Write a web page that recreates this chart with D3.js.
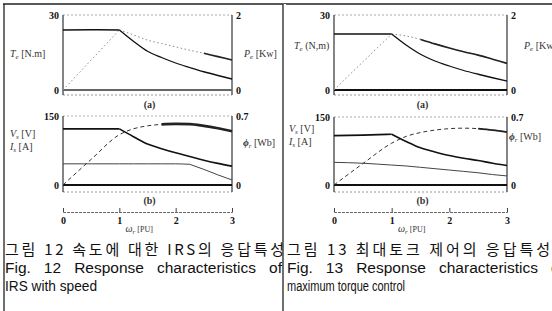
<!DOCTYPE html>
<html>
<head>
<meta charset="utf-8">
<script src="https://cdn.jsdelivr.net/npm/d3@7"></script>
<style>
  body { margin: 0; background: #fff; }
  .tick text { font-family: "Liberation Serif", serif; font-weight: bold; font-size: 10px; fill: #111; }
  .lab { font-family: "Liberation Serif", serif; font-size: 10px; fill: #333; }
  .cap { font-family: "Liberation Sans", sans-serif; font-size: 15.5px; fill: #111; }
</style>
</head>
<body>
<svg id="fig" width="552" height="311"></svg>
<script>
// rotor speed samples [PU]
const omega = [0, 0.5, 1, 1.25, 1.5, 1.75, 2, 2.25, 2.5, 2.75, 3];
const xTicks = [0, 1, 2, 3];

// Fig. 12 - IRS with speed
const te12  = [24, 24.1, 24, 19.5, 15.5, 13, 10.8, 9, 7.3, 5.8, 4.4];
const pe12  = [0, 0.8, 1.6, 1.47, 1.33, 1.24, 1.15, 1.06, 0.98, 0.89, 0.8];
const vs12  = [122, 122, 122, 105, 89, 79, 70, 62, 54, 47, 41];
const is12  = [46, 46, 46, 46, 46, 46, 46, 45, 34, 22, 11];
const phi12 = [0, 0.26, 0.51, 0.57, 0.6, 0.615, 0.62, 0.618, 0.6, 0.575, 0.545];

// Fig. 13 - maximum torque control
const te13  = [22.4, 22.4, 22.4, 18, 14.3, 11.6, 9.6, 7.8, 6.3, 4.9, 3.6];
const pe13  = [0, 0.75, 1.49, 1.44, 1.35, 1.23, 1.12, 1.02, 0.93, 0.82, 0.71];
const vs13  = [109, 110, 112, 96, 82, 73, 65, 59, 54, 48, 43];
const is13  = [50, 48, 44, 42, 39, 36, 33, 30, 27, 23, 20];
const phi13 = [0, 0.22, 0.43, 0.5, 0.54, 0.565, 0.58, 0.585, 0.58, 0.565, 0.545];

const svg = d3.select("#fig");
const fmt = d => String(d);

// page frame
svg.append("line").attr("x1", 3).attr("x2", 552).attr("y1", 4).attr("y2", 4)
    .attr("stroke", "#222").attr("stroke-width", 1.6);
svg.append("line").attr("x1", 4).attr("x2", 4).attr("y1", 4).attr("y2", 311)
    .attr("stroke", "#222").attr("stroke-width", 1.3);

const panels = [
    { x0: 63, x1: 232, bTop: 116, te: te12, pe: pe12, vs: vs12, is: is12, phi: phi12,
      isBreak: 7, peDark: 8, phiDark: 5,
      teLab: [10, 57], vsLab: [10, 137, 150], peLab: [244, 57], phiLab: [243, 146],
      korean: "그림 12 속도에 대한 IRS의 응답특성", korW: 279,
      eng1: "Fig. 12 Response characteristics of", eng1W: 277,
      eng2: "IRS with speed", eng2W: 92, tx: 5, teUnit: " [N.m]" },
    { x0: 334, x1: 507, bTop: 117, te: te13, pe: pe13, vs: vs13, is: is13, phi: phi13,
      isBreak: null, peDark: 4, phiDark: 8,
      teLab: [294, 49], vsLab: [289, 132, 145], peLab: [524, 49], phiLab: [509, 140],
      korean: "그림 13 최대토크 제어의 응답특성", korW: 263,
      eng1: "Fig. 13 Response characteristics of", eng1W: 277,
      eng2: "maximum torque control", eng2W: 118, tx: 287, teUnit: " (N,m)" }
];

// draw a series, splitting at corner indices so the bends stay sharp
function drawSeries(g, x, y, vals, breaks, style, from) {
    const idx = [from || 0].concat(breaks || [], [vals.length - 1]);
    for (let k = 0; k < idx.length - 1; k++) {
        const pts = d3.range(idx[k], idx[k + 1] + 1).map(i => [omega[i], vals[i]]);
        const line = d3.line().x(d => x(d[0])).y(d => y(d[1])).curve(d3.curveMonotoneX);
        const p = g.append("path").attr("d", line(pts)).attr("fill", "none");
        Object.entries(style).forEach(([k2, v]) => p.attr(k2, v));
    }
}

function box(g, x0, x1, top, zero, bottom, zeroColor) {
    g.append("line").attr("x1", x0).attr("x2", x1).attr("y1", top).attr("y2", top)
        .attr("stroke", "#aaa").attr("stroke-dasharray", "2,2");
    g.append("line").attr("x1", x0).attr("x2", x1).attr("y1", bottom).attr("y2", bottom)
        .attr("stroke", "#999").attr("stroke-dasharray", "2,2");
    g.append("line").attr("x1", x0).attr("x2", x0).attr("y1", top).attr("y2", bottom)
        .attr("stroke", "#333").attr("stroke-width", 1.2);
    g.append("line").attr("x1", x1).attr("x2", x1).attr("y1", top).attr("y2", bottom)
        .attr("stroke", "#333").attr("stroke-width", 1.2);
    g.append("line").attr("x1", x0).attr("x2", x1).attr("y1", zero).attr("y2", zero)
        .attr("stroke", zeroColor).attr("stroke-width", 1.8);
}

function cleanAxis(a) {
    a.select(".domain").remove();
    a.selectAll(".tick line").remove();
}

function subLabel(g, xx, yy, sym, sub, unit, fill) {
    const t = g.append("text").attr("class", "lab").attr("x", xx).attr("y", yy)
        .attr("fill", fill || "#333");
    t.append("tspan").attr("font-style", "italic").text(sym);
    t.append("tspan").attr("font-style", "italic").attr("font-size", "7px").attr("dy", 2).text(sub);
    t.append("tspan").attr("dy", -2).text(unit);
    return t;
}

// caption line justified by widening the gaps between words
function justify(g, xx, yy, str, width) {
    const t = g.append("text").attr("class", "cap").attr("x", xx).attr("y", yy).text(str);
    const nat = t.node().getComputedTextLength();
    const gaps = (str.match(/ /g) || []).length;
    if (nat < width) t.attr("word-spacing", (width - nat) / gaps);
    else t.attr("textLength", width).attr("lengthAdjust", "spacingAndGlyphs");
    return t;
}

panels.forEach(p => {
    const g = svg.append("g");
    const x = d3.scaleLinear().domain([0, 3]).range([p.x0, p.x1]);

    // ---- (a) torque / power
    const yT = d3.scaleLinear().domain([0, 30]).range([90, 15]);
    const yP = d3.scaleLinear().domain([0, 2]).range([90, 15]);
    box(g, p.x0, p.x1, 15, 90, 95, p.x0 < 100 ? "#666" : "#111");

    g.append("g").attr("transform", `translate(${p.x0},0)`)
        .call(d3.axisLeft(yT).tickValues([0, 30]).tickFormat(fmt).tickSize(0).tickPadding(4)).call(cleanAxis);
    g.append("g").attr("transform", `translate(${p.x1},0)`)
        .call(d3.axisRight(yP).tickValues([0, 2]).tickFormat(fmt).tickSize(0).tickPadding(4)).call(cleanAxis);

    drawSeries(g, x, yP, p.pe, [2], { stroke: "#888", "stroke-width": 1, "stroke-dasharray": "1.5,2.5" });
    drawSeries(g, x, yP, p.pe, [], { stroke: "#222", "stroke-width": 1.6 }, p.peDark);
    drawSeries(g, x, yT, p.te, [2], { stroke: "#111", "stroke-width": 1.3 });

    subLabel(g, p.teLab[0], p.teLab[1], "T", "e", p.teUnit);
    subLabel(g, p.peLab[0], p.peLab[1], "P", "e", " [Kw]", "#bbb");

    g.append("text").attr("class", "lab").attr("x", (p.x0 + p.x1) / 2 + 2).attr("y", 108)
        .attr("text-anchor", "middle").attr("font-weight", "bold").attr("font-size", "9px").text("(a)");

    // ---- (b) voltage / current / flux
    const yV = d3.scaleLinear().domain([0, 150]).range([185, p.bTop]);
    const yF = d3.scaleLinear().domain([0, 0.7]).range([185, p.bTop]);
    box(g, p.x0, p.x1, p.bTop, 185, 192, "#111");

    g.append("g").attr("transform", `translate(${p.x0},0)`)
        .call(d3.axisLeft(yV).tickValues([0, 150]).tickFormat(fmt).tickSize(0).tickPadding(4)).call(cleanAxis);
    g.append("g").attr("transform", `translate(${p.x1},0)`)
        .call(d3.axisRight(yF).tickValues([0, 0.7]).tickFormat(fmt).tickSize(0).tickPadding(4)).call(cleanAxis);

    drawSeries(g, x, yF, p.phi, [], { stroke: "#333", "stroke-width": 1, "stroke-dasharray": "4,3" });
    drawSeries(g, x, yF, p.phi, [], { stroke: "#222", "stroke-width": p.x0 < 100 ? 2.6 : 1.8 }, p.phiDark);
    drawSeries(g, x, yV, p.is, p.isBreak ? [p.isBreak] : [], { stroke: "#444", "stroke-width": 1 });
    drawSeries(g, x, yV, p.vs, [2], { stroke: "#111", "stroke-width": 1.6 });

    subLabel(g, p.vsLab[0], p.vsLab[1], "V", "s", "  [V]");
    subLabel(g, p.vsLab[0], p.vsLab[2], "I", "s", "  [A]");
    const ph = g.append("text").attr("class", "lab").attr("x", p.phiLab[0]).attr("y", p.phiLab[1]);
    ph.append("tspan").attr("font-weight", "bold").attr("font-style", "italic").text("ϕ");
    ph.append("tspan").attr("font-style", "italic").attr("font-size", "7px").attr("dy", 2).text("r");
    ph.append("tspan").attr("dy", -2).text(" [Wb]");

    g.append("text").attr("class", "lab").attr("x", (p.x0 + p.x1) / 2 + 2).attr("y", 204)
        .attr("text-anchor", "middle").attr("font-weight", "bold").attr("font-size", "9px").text("(b)");

    // ---- speed axis
    const xa = g.append("g").attr("transform", "translate(0,212)")
        .call(d3.axisBottom(x).tickValues(xTicks).tickFormat(d3.format("d"))
            .tickSizeInner(-4).tickSizeOuter(-4).tickPadding(5));
    xa.select(".domain").attr("stroke", "#666").attr("stroke-dasharray", "3,1");
    xa.selectAll(".tick line").attr("stroke", "#444");

    const wl = g.append("text").attr("class", "lab").attr("x", p.x0 + 0.37 * (p.x1 - p.x0)).attr("y", 232);
    wl.append("tspan").attr("font-style", "italic").text("ω");
    wl.append("tspan").attr("font-style", "italic").attr("font-size", "7px").attr("dy", 1.5).text("r");
    wl.append("tspan").attr("dy", -1.5).attr("font-size", "8px").text(" [PU]");

    // ---- captions
    g.append("text").attr("x", p.tx).attr("y", 255)
        .attr("font-family", "'Noto Sans CJK KR', sans-serif").attr("font-size", "15px").attr("fill", "#111")
        .attr("textLength", p.korW).attr("lengthAdjust", "spacing").text(p.korean);
    justify(g, p.tx, 273, p.eng1, p.eng1W);
    g.append("text").attr("class", "cap").attr("x", p.tx).attr("y", 291)
        .attr("textLength", p.eng2W).attr("lengthAdjust", "spacingAndGlyphs").text(p.eng2);
});

// panel divider drawn last so it sits over the clipped caption end
svg.append("rect").attr("x", 283).attr("y", 4).attr("width", 3).attr("height", 307).attr("fill", "#fff");
svg.append("line").attr("x1", 283).attr("x2", 283).attr("y1", 4).attr("y2", 311)
    .attr("stroke", "#222").attr("stroke-width", 1.3);
</script>
</body>
</html>
